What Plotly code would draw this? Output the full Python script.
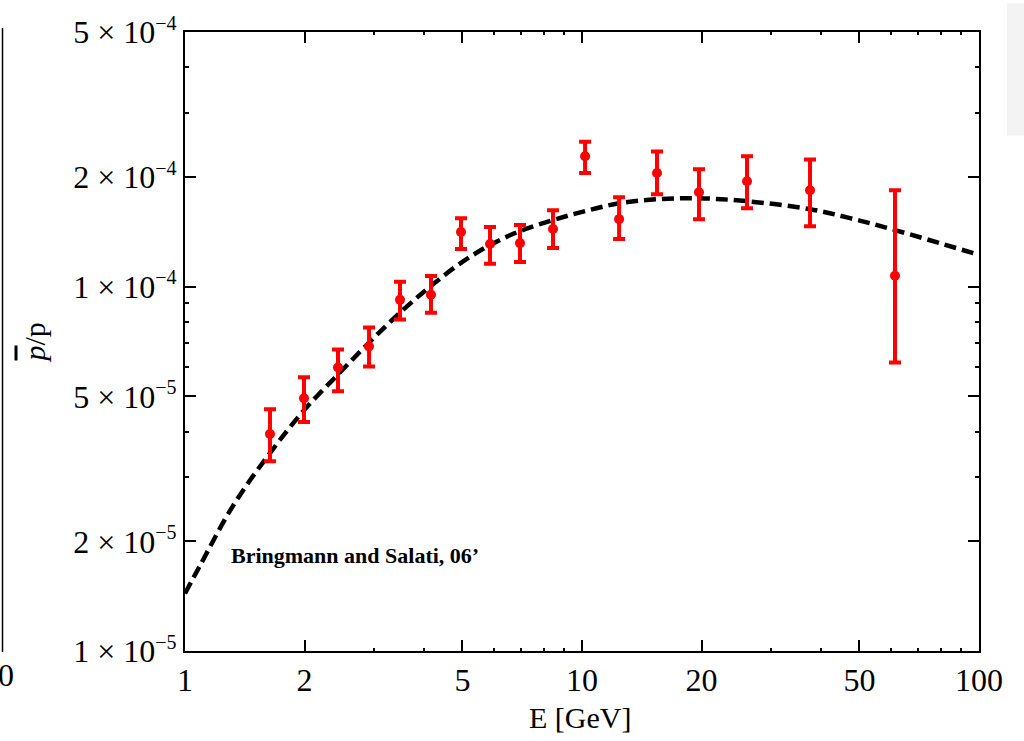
import plotly.graph_objects as go

# ---- data ----
energy = [1.637, 1.994, 2.429, 2.908, 3.480, 4.165, 4.957, 5.866, 6.980, 8.453,
          10.18, 12.40, 15.45, 19.71, 26.04, 37.53, 61.43]
ratio = [3.94e-5, 4.94e-5, 6.00e-5, 6.85e-5, 9.20e-5, 9.50e-5, 1.412e-4, 1.309e-4,
         1.317e-4, 1.439e-4, 2.28e-4, 1.532e-4, 2.05e-4, 1.816e-4, 1.946e-4, 1.839e-4, 1.071e-4]
ratio_hi = [4.61e-5, 5.64e-5, 6.72e-5, 7.72e-5, 1.031e-4, 1.07e-4, 1.542e-4, 1.457e-4,
            1.476e-4, 1.622e-4, 2.50e-4, 1.759e-4, 2.35e-4, 2.10e-4, 2.28e-4, 2.235e-4, 1.839e-4]
ratio_lo = [3.32e-5, 4.25e-5, 5.16e-5, 6.04e-5, 8.12e-5, 8.48e-5, 1.269e-4, 1.155e-4,
            1.169e-4, 1.277e-4, 2.05e-4, 1.351e-4, 1.793e-4, 1.532e-4, 1.642e-4, 1.466e-4, 6.19e-5]

curve_e = [1.0, 1.091, 1.321, 1.637, 1.994, 2.429, 2.908, 3.480, 4.165, 4.957, 5.866,
           6.980, 8.453, 10.18, 12.40, 15.45, 19.71, 26.04, 37.53, 47.33, 61.43, 100.0]
curve_v = [1.439e-5, 1.716e-5, 2.503e-5, 3.493e-5, 4.577e-5, 5.741e-5, 7.022e-5, 8.484e-5,
           1.005e-4, 1.162e-4, 1.301e-4, 1.421e-4, 1.523e-4, 1.612e-4, 1.694e-4, 1.738e-4,
           1.748e-4, 1.716e-4, 1.632e-4, 1.542e-4, 1.430e-4, 1.222e-4]

x_ticks = [1, 2, 5, 10, 20, 50, 100]
x_minor = [3, 4, 6, 7, 8, 9, 30, 40, 60, 70, 80, 90]
y_mant = [1, 2, 5, 1, 2, 5]
y_exp = [5, 5, 5, 4, 4, 4]
y_minor = [3e-5, 4e-5, 6e-5, 7e-5, 8e-5, 9e-5, 3e-4, 4e-4]

y_ticks = [m * 10 ** (-e) for m, e in zip(y_mant, y_exp)]
y_text = [f"{m} × 10<sup><span style='font-size:20px'>−{e}</span></sup>"
          for m, e in zip(y_mant, y_exp)]

FONT = "Liberation Serif, Times New Roman, serif"

fig = go.Figure()
fig.add_trace(go.Scatter(
    x=curve_e, y=curve_v, mode="lines", line_shape="spline",
    line=dict(color="black", width=4.5, dash="12px,6px"), showlegend=False))
fig.add_trace(go.Scatter(
    x=energy, y=ratio, mode="markers",
    marker=dict(color="#ff0000", size=10),
    error_y=dict(type="data", symmetric=False,
                 array=[h - v for h, v in zip(ratio_hi, ratio)],
                 arrayminus=[v - l for v, l in zip(ratio, ratio_lo)],
                 color="#ff0000", thickness=4, width=6),
    showlegend=False))

fig.update_xaxes(type="log", range=[0, 2], tickmode="array", tickvals=x_ticks,
                 ticktext=[str(t) for t in x_ticks],
                 ticks="inside", ticklen=11, tickwidth=1.5, tickcolor="black",
                 showline=True, linecolor="black", linewidth=2, mirror="ticks",
                 showgrid=False, zeroline=False,
                 tickfont=dict(family=FONT, size=32, color="black"),
                 minor=dict(tickmode="array", tickvals=x_minor, ticks="inside",
                            ticklen=3, tickwidth=1.5, tickcolor="black", showgrid=False))
fig.update_yaxes(type="log", range=[-5, -3.30103], tickmode="array", tickvals=y_ticks,
                 ticktext=y_text,
                 ticks="inside", ticklen=11, tickwidth=1.5, tickcolor="black",
                 showline=True, linecolor="black", linewidth=2, mirror="ticks",
                 showgrid=False, zeroline=False,
                 tickfont=dict(family=FONT, size=32, color="black"),
                 minor=dict(tickmode="array", tickvals=y_minor, ticks="inside",
                            ticklen=4, tickwidth=1.5, tickcolor="black", showgrid=False))

W, H = 1024, 741
L, R, T, B = 185, 45, 29, 90
pw, ph = W - L - R, H - T - B


def px(x):
    return (x - L) / pw


def py(y):
    return 1 - (y - T) / ph


annotations = [
    dict(text="<b>Bringmann and Salati, 06’</b>", x=px(229), y=py(555), xref="paper", yref="paper",
         xanchor="left", yanchor="middle", showarrow=False,
         font=dict(family=FONT, size=22, color="black")),
    dict(text="E [GeV]", x=px(580), y=py(718), xref="paper", yref="paper",
         xanchor="center", yanchor="middle", showarrow=False,
         font=dict(family=FONT, size=30, color="black")),
    dict(text="<span style='text-decoration:overline'><i>p</i></span>/p", x=px(34), y=py(341),
         xref="paper", yref="paper", textangle=-90,
         xanchor="center", yanchor="middle", showarrow=False,
         font=dict(family=FONT, size=30, color="black")),
    dict(text="100", x=px(16), y=py(675), xref="paper", yref="paper",
         xanchor="right", yanchor="middle", showarrow=False,
         font=dict(family=FONT, size=32, color="black")),
]

shapes = [
    dict(type="line", xref="paper", yref="paper", x0=px(2.5), x1=px(2.5), y0=py(25), y1=py(652),
         line=dict(color="black", width=1.5)),
    dict(type="rect", xref="paper", yref="paper", x0=px(1007), x1=px(1030), y0=py(0), y1=py(133),
         fillcolor="#f3f3f3", line=dict(width=0), layer="below"),
]

fig.update_layout(width=W, height=H, margin=dict(l=L, r=R, t=T, b=B),
                  paper_bgcolor="white", plot_bgcolor="white",
                  annotations=annotations, shapes=shapes)

fig.write_html("out.html")
